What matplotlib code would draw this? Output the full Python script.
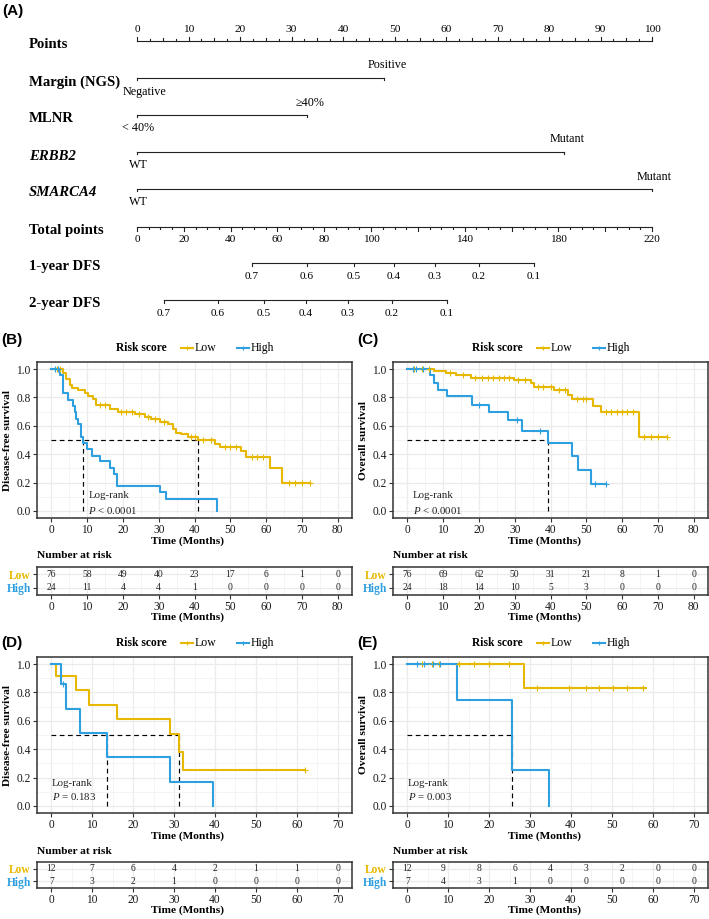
import numpy as np
import matplotlib
matplotlib.use('Agg')
import matplotlib.pyplot as plt

W, H = 709, 919
SERIF = ['Liberation Serif', 'DejaVu Serif']
SANS = ['Liberation Sans', 'DejaVu Sans']
plt.rcParams['font.family'] = SERIF
plt.rcParams['mathtext.fontset'] = 'custom'
plt.rcParams['mathtext.rm'] = 'Liberation Serif'
plt.rcParams['mathtext.it'] = 'Liberation Serif:italic'
plt.rcParams['mathtext.bf'] = 'Liberation Serif:bold'

GOLD = '#E7B800'
BLUE = '#2E9FDF'
GRID = '#EBEBEB'
EDGE = '#333333'

# ---------------- Nomogram data ----------------
points_ticks = list(range(0, 101, 10))
var_names = ['Margin (NGS)', 'MLNR', 'ERBB2', 'SMARCA4']
var_levels = [['Negative', 'Positive'], ['< 40%', '\u226540%'], ['WT', 'Mutant'], ['WT', 'Mutant']]
var_points = [[0, 48], [0, 33], [0, 83], [0, 100]]
total_max = 220
total_labels = [0, 20, 40, 60, 80, 100, 140, 180, 220]
dfs1_labels = ['0.7', '0.6', '0.5', '0.4', '0.3', '0.2', '0.1']
dfs1_total = [49.1, 72.6, 92.7, 109.8, 127.3, 146.1, 169.6]
dfs2_labels = ['0.7', '0.6', '0.5', '0.4', '0.3', '0.2', '0.1']
dfs2_total = [11.5, 34.6, 54.3, 72.2, 90.1, 108.9, 132.4]

# ---------------- KM data ----------------
# (B) DFS training
b_low_t = [0, 3.3, 4.2, 5.1, 5.9, 7.4, 9.3, 10.2, 11.6, 12.6, 16.3, 18.6, 23.3, 26.1, 27.9, 30.3, 32.6, 34.0,
           34.9, 36.3, 38.2, 41.0, 45.6, 47.0, 53.1, 54.5, 61.0, 64.5, 72.3]
b_low_s = [1.0, 0.97, 0.93, 0.89, 0.87, 0.85, 0.83, 0.81, 0.79, 0.75, 0.72, 0.70, 0.68, 0.665, 0.65, 0.63, 0.61,
           0.58, 0.55, 0.54, 0.52, 0.50, 0.47, 0.45, 0.42, 0.38, 0.30, 0.20, 0.20]
b_low_cens = [1.5, 2.5, 13.5, 15, 19.5, 21, 22.5, 24.5, 27, 29, 31.5, 39, 40, 42.5, 44.5, 48.5, 50, 51.5, 56, 57.5,
              59, 66.5, 68, 70, 72.3]
b_high_t = [0, 2.3, 3.2, 4.7, 6.0, 6.5, 7.0, 7.5, 8.2, 8.8, 10.0, 11.5, 13.5, 16.5, 17.6, 18.4, 30.5, 32.1, 46.2]
b_high_s = [1.0, 0.96, 0.83, 0.78, 0.74, 0.70, 0.65, 0.61, 0.52, 0.48, 0.44, 0.39, 0.35, 0.30, 0.26, 0.174, 0.13,
            0.087, 0.0]
b_high_cens = [1.0, 1.8]
b_times = [0, 10, 20, 30, 40, 50, 60, 70, 80]
b_risk_low = [76, 58, 49, 40, 23, 17, 6, 1, 0]
b_risk_high = [24, 11, 4, 4, 1, 0, 0, 0, 0]

# (C) OS training
c_low_t = [0, 7.4, 10.7, 13.5, 17.7, 29.8, 34.5, 35.4, 41.0, 45.0, 46.0, 51.9, 54.0, 64.7, 72.6]
c_low_s = [1.0, 0.99, 0.97, 0.955, 0.94, 0.92, 0.90, 0.875, 0.85, 0.82, 0.79, 0.74, 0.695, 0.52, 0.52]
c_low_cens = [2, 4, 6, 12, 15.5, 19, 21, 22.5, 24, 25.5, 27, 28.5, 31, 33, 36.5, 38, 40, 42.5, 44, 47.5, 49, 50,
              55.5, 57, 58.5, 60, 61.5, 63, 66, 68, 70, 72.6]
c_high_t = [0, 6.2, 7.5, 8.7, 11.2, 18.2, 22.8, 28.2, 32.1, 39.4, 45.9, 47.8, 51.2, 55.5]
c_high_s = [1.0, 0.96, 0.90, 0.855, 0.81, 0.75, 0.70, 0.64, 0.56, 0.48, 0.385, 0.29, 0.19, 0.19]
c_high_cens = [1.5, 2.5, 4.5, 20, 30.7, 37.2, 52.5, 55.5]
c_times = [0, 10, 20, 30, 40, 50, 60, 70, 80]
c_risk_low = [76, 69, 62, 50, 31, 21, 8, 1, 0]
c_risk_high = [24, 18, 14, 10, 5, 3, 0, 0, 0]

# (D) DFS validation
d_low_t = [0, 1.1, 6.0, 9.2, 16.1, 29.0, 31.2, 32.2, 62.0]
d_low_s = [1.0, 0.917, 0.815, 0.713, 0.611, 0.509, 0.382, 0.255, 0.255]
d_low_cens = [62.0]
d_high_t = [0, 2.4, 3.5, 7.1, 13.7, 29.0, 39.4]
d_high_s = [1.0, 0.857, 0.686, 0.514, 0.343, 0.171, 0.0]
d_high_cens = [2.8]
d_times = [0, 10, 20, 30, 40, 50, 60, 70]
d_risk_low = [12, 7, 6, 4, 2, 1, 1, 0]
d_risk_high = [7, 3, 2, 1, 0, 0, 0, 0]

# (E) OS validation
e_low_t = [0, 28.5, 58.3]
e_low_s = [1.0, 0.833, 0.833]
e_low_cens = [3.7, 6.1, 7.7, 12.6, 16.3, 20, 24.9, 31.8, 39.6, 43.6, 46.9, 50.2, 53.8, 57.5]
e_high_t = [0, 12.1, 25.5, 34.7]
e_high_s = [1.0, 0.75, 0.25, 0.0]
e_high_cens = [2.4, 4.1, 6.3, 7.9]
e_times = [0, 8.75, 17.5, 26.25, 35, 43.75, 52.5, 61.25, 70]
e_risk_low = [12, 9, 8, 6, 4, 3, 2, 0, 0]
e_risk_high = [7, 4, 3, 1, 0, 0, 0, 0, 0]

# ---------------- figure ----------------
fig = plt.figure(figsize=(W / 100, H / 100), dpi=100)


def rect(x0, y0, x1, y1):
    return [x0 / W, 1 - y1 / H, (x1 - x0) / W, (y1 - y0) / H]


# ---------- (A) nomogram ----------
NX0, NPX = 137.0, 5.15      # pixel of 0 points, pixels per point
axn = fig.add_axes([0, 1 - 330 / H, 1, 330 / H])
axn.set_xlim((0 - NX0) / NPX, (W - NX0) / NPX)
axn.set_ylim(330, 0)
axn.axis('off')


def px(xp):
    return (xp - NX0) / NPX


LBLX = px(29)
lab_kw = dict(fontsize=10.6, fontweight='bold', ha='left', va='center')
lc = '#222222'
lw_n = 0.8

fig.text(2 / W, 1 - 11 / H, '(A)', family=SANS, fontsize=11, fontweight='bold', va='center')

# Points axis
yP = 41
axn.text(LBLX, yP + 4, 'Points', **lab_kw)
axn.plot([0, 100], [yP, yP], color=lc, lw=lw_n)
for v in np.arange(0, 100.01, 2.5):
    if v % 10 == 0:
        ln = 4
    elif v % 5 == 0:
        ln = 3
    else:
        ln = 2
    axn.plot([v, v], [yP, yP - ln], color=lc, lw=lw_n)
for v in points_ticks:
    axn.text(v, yP - 12, str(v), ha='center', va='center', fontsize=8.2)

# variable rows
row_y = [78, 115, 152, 189]
for name, levs, pts, y in zip(var_names, var_levels, var_points, row_y):
    style = 'italic' if name in ('ERBB2', 'SMARCA4') else 'normal'
    axn.text(LBLX, y + 4, name, style=style, **lab_kw)
    axn.plot([pts[0], pts[-1]], [y, y], color=lc, lw=lw_n)
    for p in pts:
        axn.plot([p, p], [y, y + 2.5], color=lc, lw=lw_n)
    # low level below, high level above
    if name == 'Margin (NGS)':
        axn.text(px(123), y + 14, levs[0], ha='left', va='center', fontsize=8.7)
    else:
        axn.text(pts[0] + 0.2, y + 13, levs[0], ha='center', va='center', fontsize=8.7)
    axn.text(pts[1] + 0.5, y - 12.5, levs[1], ha='center', va='center', fontsize=8.7)

# Total points
yT = 227
scale_t = 100.0 / total_max
axn.text(LBLX, yT + 3.5, 'Total points', **lab_kw)
axn.plot([0, 100], [yT, yT], color=lc, lw=lw_n)
for v in range(0, total_max + 1, 5):
    ln = 4 if v % 20 == 0 else 2.5
    axn.plot([v * scale_t] * 2, [yT, yT + ln], color=lc, lw=lw_n)
for v in total_labels:
    axn.text(v * scale_t, yT + 13, str(v), ha='center', va='center', fontsize=8.2)

# DFS axes
for lab, yD, labs, tots in [('1-year DFS', 263, dfs1_labels, dfs1_total),
                            ('2-year DFS', 300, dfs2_labels, dfs2_total)]:
    axn.text(LBLX, yD + 4, lab, **lab_kw)
    xs = [t * scale_t for t in tots]
    axn.plot([xs[0], xs[-1]], [yD, yD], color=lc, lw=lw_n)
    for xv, l in zip(xs, labs):
        axn.plot([xv, xv], [yD, yD + 3.5], color=lc, lw=lw_n)
        axn.text(xv, yD + 13.5, l, ha='center', va='center', fontsize=8.2)


# ---------- KM panels ----------
def step_eval(t, s, x):
    idx = np.searchsorted(np.asarray(t), np.asarray(x), side='right') - 1
    idx = np.clip(idx, 0, len(s) - 1)
    return np.asarray(s)[idx]


def median_time(t, s):
    for ti, si in zip(t, s):
        if si <= 0.5:
            return ti
    return None


def style_x(ax, xlim, xticks):
    ax.set_xlim(xlim)
    ax.set_xticks(xticks)
    step = xticks[1] - xticks[0]
    ax.set_xticks(np.arange(xticks[0] + step / 2, xlim[1], step), minor=True)
    ax.grid(True, which='major', color=GRID, lw=0.9)
    ax.grid(True, which='minor', color='#F3F3F3', lw=0.6)
    ax.set_axisbelow(True)
    for sp in ax.spines.values():
        sp.set_color(EDGE)
        sp.set_linewidth(1.1)
    ax.tick_params(which='major', length=3, width=0.8, color=EDGE, labelsize=8.3,
                   labelcolor='#1a1a1a', pad=1.5)
    ax.tick_params(which='minor', length=0)


def km_panel(dx, top, letter, letter_dy, xlim, xticks, low, high, ptxt, lr_x, lr_y, ylab,
             tab_times, tab_low, tab_high, tab_top, tab_bot):
    L, R = 37 + dx, 352 + dx
    bot = top + 156
    ax = fig.add_axes(rect(L, top, R, bot))
    style_x(ax, xlim, xticks)
    ax.set_ylim(-0.05, 1.05)
    ax.set_yticks([0, 0.2, 0.4, 0.6, 0.8, 1.0])
    ax.set_yticklabels(['0.0', '0.2', '0.4', '0.6', '0.8', '1.0'])
    ax.set_yticks([0.1, 0.3, 0.5, 0.7, 0.9], minor=True)
    ax.set_xticklabels([str(v) for v in xticks])

    meds = []
    for (t, s, cens), col in zip([low, high], [GOLD, BLUE]):
        ax.step(t, s, where='post', color=col, lw=1.5, zorder=3)
        ax.plot(cens, step_eval(t, s, cens), '+', color=col, ms=4, mew=0.8, zorder=4)
        m = median_time(t, s)
        if m is not None:
            meds.append(m)
    if meds:
        ax.plot([0, max(meds)], [0.5, 0.5], color='black', lw=0.85, ls=(0, (4, 3)), zorder=2)
        for m in meds:
            ax.plot([m, m], [0, 0.5], color='black', lw=0.85, ls=(0, (4, 3)), zorder=2)

    ax.text(lr_x, lr_y[0], 'Log-rank', fontsize=7.8, ha='left', va='center', color='#222222')
    ax.text(lr_x, lr_y[1], ptxt, fontsize=7.8, ha='left', va='center', color='#222222')

    # legend
    ly = 1 + 14 / 156
    ax.text(104.5 / 315, ly, 'Risk score', transform=ax.transAxes, ha='center', va='center',
            fontsize=8.3, fontweight='bold')
    for (x0, x1, xt, lab, col) in [(144, 156, 158, 'Low', GOLD), (200, 212, 214, 'High', BLUE)]:
        ax.plot([x0 / 315, x1 / 315], [ly, ly], transform=ax.transAxes, color=col, lw=1.5, clip_on=False)
        ax.plot([(x0 + x1) / 630], [ly], '+', transform=ax.transAxes, color=col, ms=3.5, mew=0.8,
                clip_on=False)
        ax.text(xt / 315, ly, lab, transform=ax.transAxes, ha='left', va='center', fontsize=8.5)

    fig.text((dx + 1) / W, 1 - (top - letter_dy) / H, letter, family=SANS, fontsize=11,
             fontweight='bold', va='center', ha='left')
    fig.text((dx + 8) / W, 1 - ((top + bot) / 2) / H, ylab, rotation=90, ha='center', va='center',
             fontsize=8.2, fontweight='bold')
    fig.text((L + 151) / W, 1 - (bot + 23) / H, 'Time (Months)', ha='center', va='center',
             fontsize=8.2, fontweight='bold')

    # risk table
    axt = fig.add_axes(rect(L, tab_top, R, tab_bot))
    style_x(axt, xlim, xticks)
    axt.set_xticklabels([str(v) for v in xticks])
    axt.set_ylim(0.45, 2.55)
    axt.set_yticks([2, 1])
    axt.set_yticklabels(['Low', 'High'])
    for tl, col in zip(axt.get_yticklabels(), [GOLD, BLUE]):
        tl.set_color(col)
        tl.set_fontweight('bold')
        tl.set_fontsize(8.3)
    for tt, nl, nh in zip(tab_times, tab_low, tab_high):
        axt.text(tt, 2, str(nl), ha='center', va='center', fontsize=6.9, color='#222222')
        axt.text(tt, 1, str(nh), ha='center', va='center', fontsize=6.9, color='#222222')
    fig.text(L / W, 1 - (tab_top - 11) / H, 'Number at risk', ha='left', va='center',
             fontsize=8.2, fontweight='bold')
    fig.text((L + 151) / W, 1 - (tab_bot + 22) / H, 'Time (Months)', ha='center', va='center',
             fontsize=8.2, fontweight='bold')


km_panel(0, 362, '(B)', 22, (-4, 84), b_times,
         (b_low_t, b_low_s, b_low_cens), (b_high_t, b_high_s, b_high_cens),
         r'$P$ < 0.0001', 10.3, (0.11, 0.006), 'Disease-free survival',
         b_times, b_risk_low, b_risk_high, 567, 595)
km_panel(356, 362, '(C)', 22, (-4, 84), c_times,
         (c_low_t, c_low_s, c_low_cens), (c_high_t, c_high_s, c_high_cens),
         r'$P$ < 0.0001', 1.6, (0.11, 0.006), 'Overall survival',
         c_times, c_risk_low, c_risk_high, 567, 595)
km_panel(0, 657, '(D)', 14, (-3.5, 73.5), d_times,
         (d_low_t, d_low_s, d_low_cens), (d_high_t, d_high_s, d_high_cens),
         r'$P$ = 0.183', 0.2, (0.16, 0.066), 'Disease-free survival',
         d_times, d_risk_low, d_risk_high, 862, 888)
km_panel(356, 657, '(E)', 14, (-3.5, 73.5), d_times,
         (e_low_t, e_low_s, e_low_cens), (e_high_t, e_high_s, e_high_cens),
         r'$P$ = 0.003', 0.2, (0.16, 0.066), 'Overall survival',
         e_times, e_risk_low, e_risk_high, 862, 888)

fig.savefig('out.png', dpi=100)
